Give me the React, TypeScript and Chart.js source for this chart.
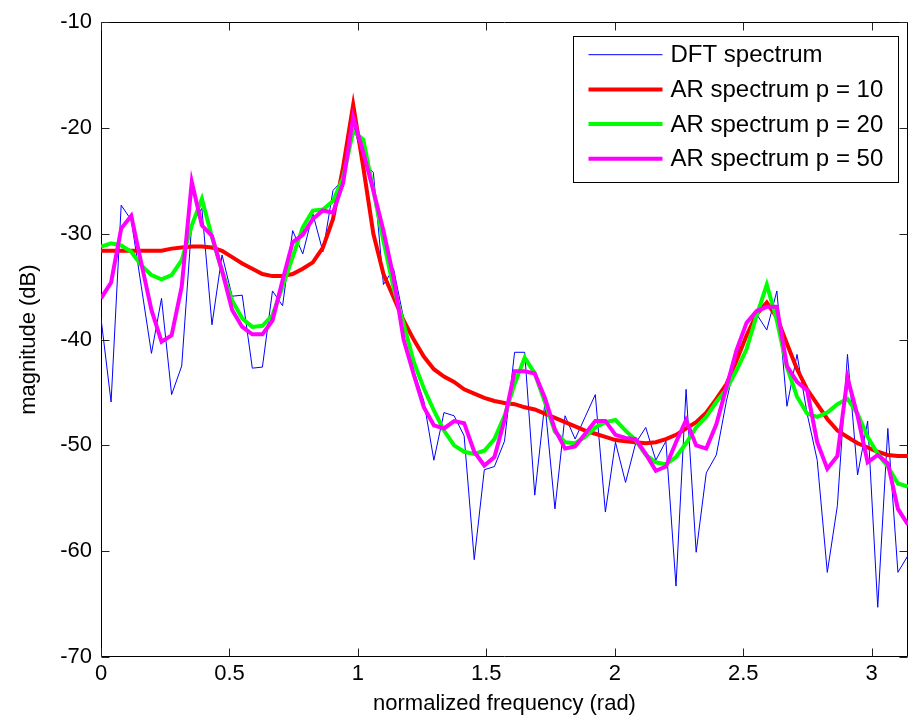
import React, { useEffect, useRef } from "react";
import { Chart, registerables } from "chart.js";

Chart.register(...registerables);

// frequency grid: 81 bins from 0 to pi
const NBINS = 80;
const freq: number[] = Array.from({ length: NBINS + 1 }, (_, k) => (k * Math.PI) / NBINS);

const dftSpectrum: number[] = [
  -38.0, -45.9, -27.3, -28.7, -35.0, -41.3, -36.1, -45.2, -42.5, -29.0,
  -27.6, -38.6, -32.0, -35.9, -35.8, -42.7, -42.6, -35.4, -36.8, -29.7,
  -31.9, -28.1, -31.7, -25.9, -24.9, -19.5, -23.3, -24.2, -34.8, -33.3,
  -38.0, -42.9, -45.8, -51.4, -46.9, -47.2, -49.1, -60.8, -52.3, -52.0,
  -49.6, -41.2, -41.2, -54.7, -46.0, -56.0, -47.2, -49.4, -47.3, -45.2,
  -56.3, -49.7, -53.5, -49.8, -48.3, -51.4, -49.6, -63.3, -44.7, -60.1,
  -52.6, -50.9, -45.8, -41.7, -38.2, -37.6, -39.1, -35.4, -46.3, -41.4,
  -47.0, -51.4, -62.0, -55.7, -41.4, -52.8, -47.7, -65.3, -48.4, -62.0,
  -60.4,
];

const arP10: number[] = [
  -31.6, -31.6, -31.6, -31.6, -31.6, -31.6, -31.6, -31.4, -31.3, -31.2,
  -31.2, -31.3, -31.6, -32.2, -32.8, -33.3, -33.8, -34.0, -34.0, -33.8,
  -33.3, -32.7, -31.3, -28.6, -23.7, -17.8, -23.7, -30.0, -33.8, -36.0,
  -38.2, -40.0, -41.6, -42.8, -43.5, -44.0, -44.7, -45.1, -45.5, -45.8,
  -46.0, -46.1, -46.4, -46.6, -47.0, -47.4, -47.8, -48.2, -48.6, -48.9,
  -49.2, -49.5, -49.6, -49.7, -49.8, -49.7, -49.4, -49.0, -48.4, -47.8,
  -46.9, -45.6, -44.2, -42.0, -39.6, -37.6, -36.5, -37.9, -40.4, -42.8,
  -44.7, -46.1, -47.5, -48.6, -49.2, -49.8, -50.2, -50.6, -50.9, -51.0,
  -51.0,
];

const arP20: number[] = [
  -31.2, -30.9, -31.1, -31.7, -33.0, -33.9, -34.3, -33.9, -32.5, -29.2,
  -26.7, -30.3, -33.5, -36.3, -38.0, -38.8, -38.7, -37.7, -35.0, -32.2,
  -29.4, -27.8, -27.7, -26.9, -24.7, -20.3, -21.1, -25.9, -30.7, -35.1,
  -38.5, -42.1, -44.6, -46.7, -48.6, -50.0, -50.6, -50.8, -50.5, -49.4,
  -47.2, -44.2, -41.7, -43.2, -45.9, -48.7, -49.7, -49.8, -49.2, -48.3,
  -47.8, -47.6, -48.6, -49.5, -50.9, -51.6, -51.8, -51.1, -49.8, -48.3,
  -47.3, -45.9, -44.7, -42.9, -40.9, -37.7, -34.8, -38.2, -42.6, -45.4,
  -47.0, -47.3, -46.9, -46.1, -45.6, -47.0, -49.2, -50.8, -52.0, -53.6,
  -53.9,
];

const arP50: number[] = [
  -36.1, -34.6, -29.5, -28.3, -32.8, -37.2, -40.2, -39.6, -35.0, -25.1,
  -29.2, -30.2, -33.5, -37.2, -38.8, -39.5, -39.5, -38.2, -34.4, -30.8,
  -30.1, -28.6, -27.8, -28.0, -25.2, -19.0, -22.3, -25.9, -29.7, -34.1,
  -40.0, -43.3, -46.4, -48.1, -48.4, -47.7, -47.9, -50.6, -51.9, -51.1,
  -47.6, -43.0, -43.0, -43.2, -45.5, -48.5, -50.3, -50.1, -48.9, -47.7,
  -47.7, -49.0, -49.3, -49.4, -50.8, -52.4, -52.0, -49.7, -47.6, -50.0,
  -50.3, -48.0, -44.5, -41.0, -38.4, -37.3, -36.9, -36.9, -42.5, -44.0,
  -44.8, -49.7, -52.2, -51.0, -43.6, -47.2, -51.6, -50.9, -51.7, -56.0,
  -57.5,
];

const xTickValues: number[] = [0, 0.5, 1, 1.5, 2, 2.5, 3];
const yTickValues: number[] = [-70, -60, -50, -40, -30, -20, -10];

const seriesLabels: string[] = [
  "DFT spectrum",
  "AR spectrum p = 10",
  "AR spectrum p = 20",
  "AR spectrum p = 50",
];
const seriesColors: string[] = ["#0000ff", "#ff0000", "#00ff00", "#ff00ff"];
const seriesWidths: number[] = [1, 4, 4, 4];

const FONT = '"Liberation Sans", Arial, Helvetica, sans-serif';

const framePlugin = {
  id: "matlabFrame",
  beforeDatasetsDraw(chart: any) {
    const { ctx, chartArea } = chart;
    const { left, right, top, bottom } = chartArea;
    const xs = chart.scales.x;
    const ys = chart.scales.y;
    const tickLen = 8;
    ctx.save();
    ctx.strokeStyle = "#000";
    ctx.lineWidth = 1;
    const L = Math.round(left) + 0.5;
    const R = Math.round(right) - 0.5;
    const T = Math.round(top) + 0.5;
    const B = Math.round(bottom) - 0.5;
    ctx.beginPath();
    ctx.rect(L, T, R - L, B - T);
    ctx.stroke();
    ctx.strokeStyle = "#222";
    ctx.beginPath();
    xTickValues.forEach((v) => {
      const px = Math.round(xs.getPixelForValue(v)) + 0.5;
      ctx.moveTo(px, B);
      ctx.lineTo(px, B - tickLen);
      ctx.moveTo(px, T);
      ctx.lineTo(px, T + tickLen);
    });
    yTickValues.forEach((v) => {
      const py = Math.round(ys.getPixelForValue(v)) + 0.5;
      ctx.moveTo(L, py);
      ctx.lineTo(L + tickLen, py);
      ctx.moveTo(R, py);
      ctx.lineTo(R - tickLen, py);
    });
    ctx.stroke();
    ctx.restore();
  },
  afterDraw(chart: any) {
    const { ctx, chartArea } = chart;
    const { right, top } = chartArea;
    const boxL = Math.round(right - 335) + 0.5;
    const boxR = Math.round(right - 10) + 0.5;
    const boxT = Math.round(top + 14) + 0.5;
    const boxB = Math.round(top + 160) + 0.5;
    ctx.save();
    ctx.fillStyle = "#fff";
    ctx.fillRect(boxL, boxT, boxR - boxL, boxB - boxT);
    ctx.strokeStyle = "#000";
    ctx.lineWidth = 1;
    ctx.strokeRect(boxL, boxT, boxR - boxL, boxB - boxT);
    ctx.font = `24px ${FONT}`;
    ctx.textBaseline = "middle";
    ctx.textAlign = "left";
    chart.data.datasets.forEach((ds: any, i: number) => {
      const rowY = top + 32.5 + i * 34.7;
      ctx.strokeStyle = ds.borderColor;
      ctx.lineWidth = ds.borderWidth;
      ctx.beginPath();
      ctx.moveTo(boxL + 15, rowY);
      ctx.lineTo(boxL + 89, rowY);
      ctx.stroke();
      ctx.fillStyle = "#000";
      ctx.fillText(ds.label, boxL + 97, rowY + 1);
    });
    ctx.restore();
  },
};

export default function App() {
  const canvasRef = useRef<HTMLCanvasElement | null>(null);

  useEffect(() => {
    if (!canvasRef.current) return;
    const seriesValues = [dftSpectrum, arP10, arP20, arP50];
    const datasets = seriesValues.map((vals, i) => ({
      label: seriesLabels[i],
      data: vals.map((v, k) => ({ x: freq[k], y: v })),
      borderColor: seriesColors[i],
      backgroundColor: seriesColors[i],
      borderWidth: seriesWidths[i],
      pointRadius: 0,
      tension: 0,
      fill: false,
      order: 3 - i,
    }));

    const chart = new Chart(canvasRef.current, {
      type: "line",
      data: { datasets },
      options: {
        responsive: false,
        animation: false,
        maintainAspectRatio: false,
        layout: { padding: { top: 21, right: 6, bottom: 0, left: 0 } },
        plugins: {
          legend: { display: false },
          tooltip: { enabled: false },
        },
        scales: {
          x: {
            type: "linear",
            min: 0,
            max: Math.PI,
            afterBuildTicks: (scale: any) => {
              scale.ticks = xTickValues.map((v) => ({ value: v }));
            },
            afterFit: (scale: any) => {
              scale.height = 61;
            },
            grid: { display: false, drawTicks: false },
            border: { display: false },
            ticks: {
              color: "#000",
              padding: 4,
              maxRotation: 0,
              autoSkip: false,
              font: { family: FONT, size: 22 },
              callback: (value: any) => String(value),
            },
            title: {
              display: true,
              text: "normalized frequency (rad)",
              color: "#000",
              font: { family: FONT, size: 22 },
              padding: { top: 0, bottom: 1 },
            },
          },
          y: {
            type: "linear",
            min: -70,
            max: -10,
            afterBuildTicks: (scale: any) => {
              scale.ticks = yTickValues.map((v) => ({ value: v }));
            },
            afterFit: (scale: any) => {
              scale.width = 101;
            },
            grid: { display: false, drawTicks: false },
            border: { display: false },
            ticks: {
              color: "#000",
              padding: 9,
              autoSkip: false,
              font: { family: FONT, size: 22 },
              callback: (value: any) => String(value),
            },
            title: {
              display: true,
              text: "magnitude (dB)",
              color: "#000",
              font: { family: FONT, size: 22 },
              padding: { top: 16, bottom: 0 },
            },
          },
        },
      },
      plugins: [framePlugin],
    } as any);

    return () => {
      chart.destroy();
    };
  }, []);

  return (
    <div
      style={{
        position: "absolute",
        left: 0,
        top: 0,
        width: 914,
        height: 718,
        background: "#fff",
      }}
    >
      <canvas ref={canvasRef} width={914} height={718} style={{ display: "block" }} />
    </div>
  );
}
